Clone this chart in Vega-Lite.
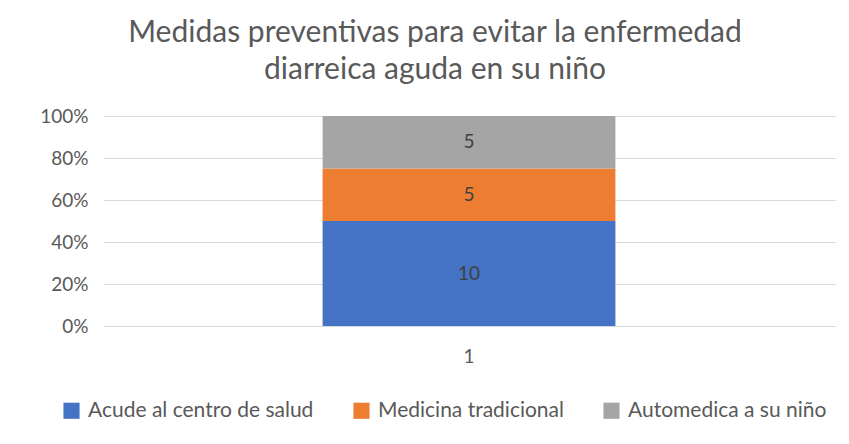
{
  "$schema": "https://vega.github.io/schema/vega-lite/v6.json",
  "autosize": {"type": "none"},
  "width": 732,
  "height": 210,
  "padding": {"left": 103, "top": 116, "right": 14, "bottom": 118},
  "background": "white",
  "title": {
    "text": ["Medidas preventivas para evitar la enfermedad", "diarreica aguda en su niño"],
    "font": "Lato",
    "fontSize": 30,
    "fontWeight": "normal",
    "color": "#595959",
    "lineHeight": 37,
    "offset": 22,
    "dx": -34
  },
  "data": {
    "values": [
      {"grupo": "1", "medida": "Acude al centro de salud", "n": 10, "orden": 1},
      {"grupo": "1", "medida": "Medicina tradicional", "n": 5, "orden": 2},
      {"grupo": "1", "medida": "Automedica a su niño", "n": 5, "orden": 3}
    ]
  },
  "config": {
    "view": {"stroke": null},
    "font": "Lato"
  },
  "encoding": {
    "x": {
      "field": "grupo",
      "type": "nominal",
      "scale": {"paddingInner": 0, "paddingOuter": 0.75},
      "axis": {
        "title": null,
        "labelAngle": 0,
        "domain": false,
        "ticks": false,
        "labelPadding": 21,
        "labelFontSize": 19,
        "labelColor": "#595959",
        "labelFont": "Lato"
      }
    },
    "order": {"field": "orden", "type": "quantitative"}
  },
  "layer": [
    {
      "mark": {"type": "bar"},
      "encoding": {
        "y": {
          "field": "n",
          "type": "quantitative",
          "stack": "normalize",
          "scale": {"domain": [0, 1]},
          "axis": {
            "title": null,
            "format": ".0%",
            "values": [0, 0.2, 0.4, 0.6, 0.8, 1],
            "domain": false,
            "ticks": false,
            "labelPadding": 15,
            "labelFontSize": 19,
            "labelColor": "#595959",
            "labelFont": "Lato",
            "gridColor": "#d9d9d9",
            "gridWidth": 1
          }
        },
        "color": {
          "field": "medida",
          "type": "nominal",
          "scale": {
            "domain": ["Acude al centro de salud", "Medicina tradicional", "Automedica a su niño"],
            "range": ["#4472C4", "#ED7D31", "#A5A5A5"]
          },
          "legend": {
            "title": null,
            "orient": "none",
            "direction": "horizontal",
            "legendX": -42,
            "legendY": 284,
            "symbolType": "square",
            "symbolSize": 260,
            "symbolStrokeWidth": 0,
            "labelFontSize": 21,
            "labelColor": "#595959",
            "labelFont": "Lato",
            "labelLimit": 0,
            "labelOffset": 6,
            "columnPadding": 37,
            "symbolOffset": 0
          }
        }
      }
    },
    {
      "mark": {"type": "text", "fontSize": 19, "color": "#404040", "font": "Lato"},
      "encoding": {
        "y": {"field": "n", "type": "quantitative", "stack": "normalize", "bandPosition": 0.5},
        "text": {"field": "n", "type": "quantitative"}
      }
    }
  ]
}
